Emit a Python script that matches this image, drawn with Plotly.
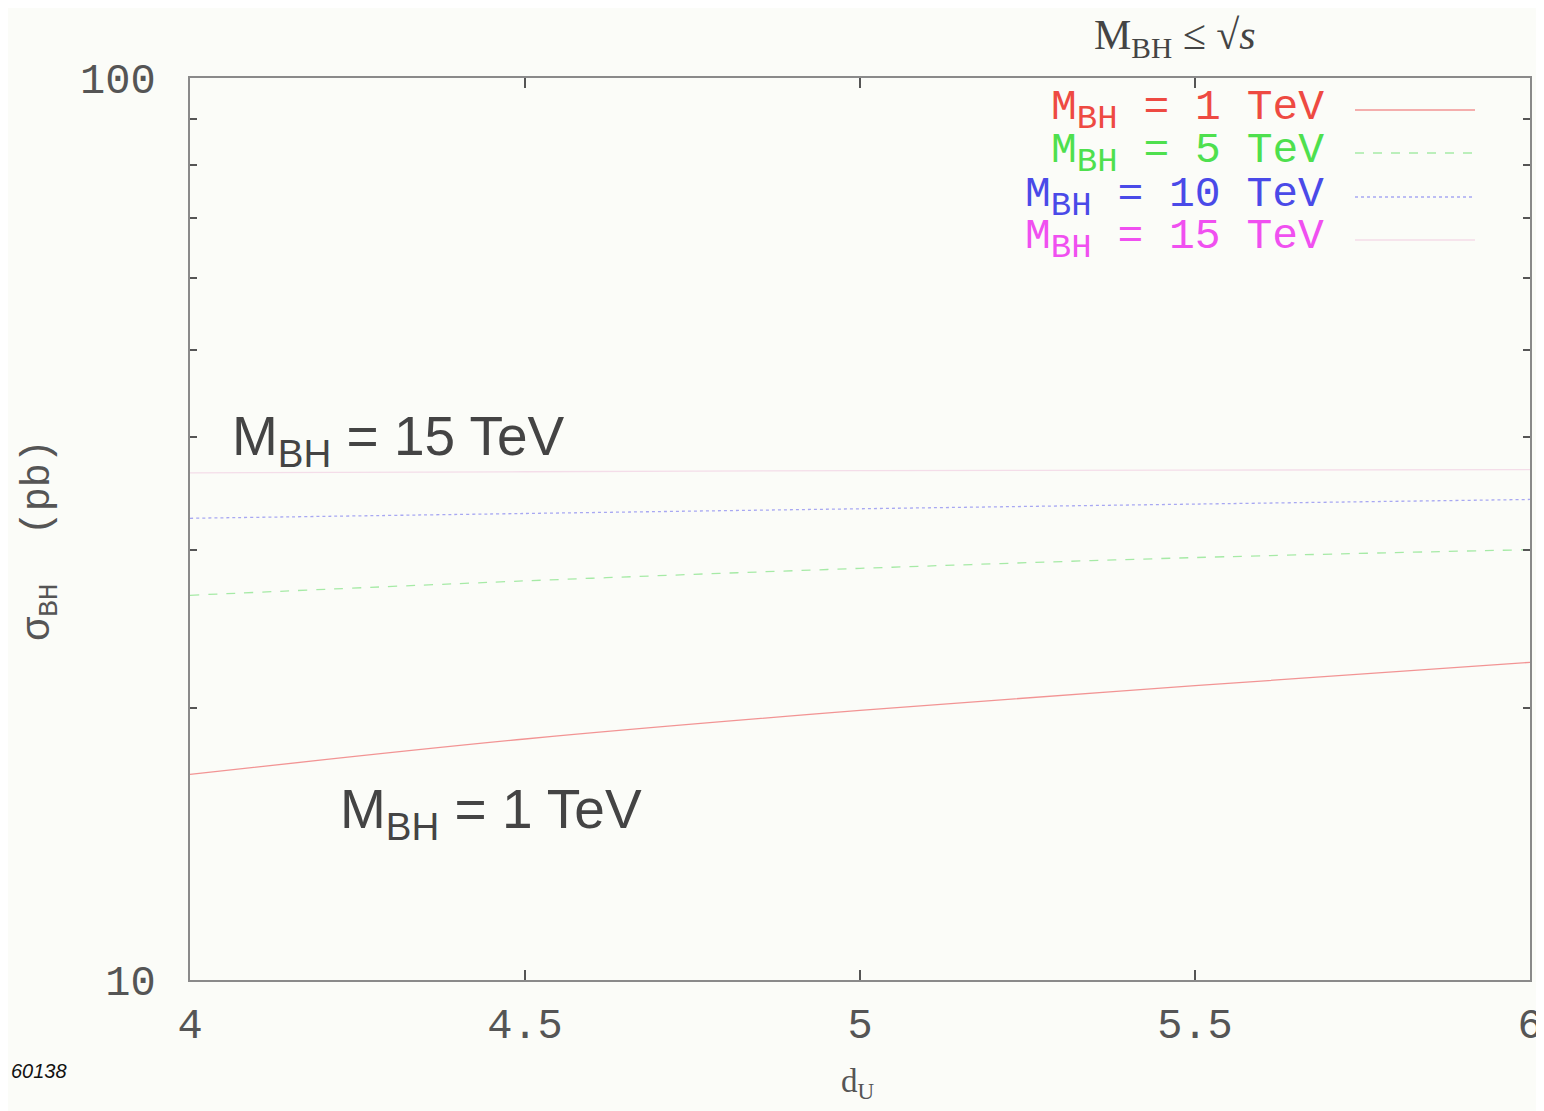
import plotly.graph_objects as go

# Data
d_u = [4.0, 4.5, 5.0, 5.5, 6.0]
sigma_1tev = [16.9, 18.5, 19.9, 21.2, 22.5]
sigma_5tev = [26.7, 27.7, 28.6, 29.4, 30.0]
sigma_10tev = [32.5, 32.9, 33.3, 33.7, 34.1]
sigma_15tev = [36.5, 36.6, 36.7, 36.75, 36.8]
series_labels = ["1 TeV", "5 TeV", "10 TeV", "15 TeV"]
text_colors = ["#ee4a42", "#4ee04e", "#4a4ae8", "#f050f0"]
line_colors = ["#f29494", "#a6eaa6", "#a8a8f2", "#f4dde9"]
line_dashes = ["solid", "dash", "dot", "solid"]
x_ticks = [4, 4.5, 5, 5.5, 6]
x_ticktext = ["4", "4.5", "5", "5.5", "6"]
y_major = [10, 100]
y_minor = [20, 30, 40, 50, 60, 70, 80, 90]

# plot area in screen pixels (the page adds an 8px body margin)
L, R, T, B = 190, 1530, 78, 980


def px(x):
    return (x - L) / (R - L)


def py(y):
    return (B - y) / (B - T)


fig = go.Figure()
all_series = [sigma_1tev, sigma_5tev, sigma_10tev, sigma_15tev]
for lab, ys, lc, dash in zip(series_labels, all_series, line_colors, line_dashes):
    fig.add_trace(go.Scatter(x=d_u, y=ys, mode="lines", name="M_BH = " + lab,
                             line=dict(color=lc, width=1.3, dash=dash, shape="spline"),
                             showlegend=False))

mono = "Liberation Mono, Courier New, monospace"
serif = "Liberation Serif, Times New Roman, serif"
sans = "Liberation Sans, Arial, sans-serif"

axis_common = dict(showline=True, linecolor="#8a8a8a", linewidth=2, mirror="ticks",
                   ticks="inside", ticklen=10, tickcolor="#555", tickwidth=1.5,
                   showgrid=False, zeroline=False, automargin=False,
                   tickfont=dict(family=mono, size=42, color="#555"))

fig.update_layout(
    width=1536, height=1103,
    margin=dict(l=182, r=14, t=70, b=131),
    paper_bgcolor="#fbfcf8", plot_bgcolor="#fbfcf8",
    xaxis=dict(range=[4, 6], tickvals=x_ticks, ticktext=x_ticktext,
               ticklabelstandoff=6, **axis_common),
    yaxis=dict(type="log", range=[1, 2], tickvals=y_major, ticktext=["10", "100"],
               minor=dict(tickvals=y_minor, ticks="inside", ticklen=7, tickcolor="#555"),
               ticklabelstandoff=24, **axis_common),
)

# Axis titles
fig.add_annotation(x=px(40), y=py(540), xref="paper", yref="paper",
                   text="σ<sub>BH</sub>  (pb)", textangle=-90, showarrow=False,
                   xanchor="center", yanchor="middle",
                   font=dict(family=mono, size=40, color="#555"))
fig.add_annotation(x=px(858), y=py(1083), xref="paper", yref="paper",
                   text="d<sub>U</sub>", showarrow=False,
                   xanchor="center", yanchor="middle",
                   font=dict(family=serif, size=33, color="#555"))

# Gnuplot-style key: text right-aligned, sample on the right
row_y = [110, 153, 197, 240]
for lab, tc, lc, dash, ry in zip(series_labels, text_colors, line_colors, line_dashes, row_y):
    txt = ("M<sub><span style='font-size:34px'>BH</span></sub> = "
           + lab.replace(" ", "&nbsp;"))
    fig.add_annotation(x=px(1326), y=py(ry), xref="paper", yref="paper", text=txt,
                       xanchor="right", yanchor="middle", showarrow=False,
                       font=dict(family=mono, size=43, color=tc))
    fig.add_shape(type="line", xref="paper", yref="paper", x0=px(1355), x1=px(1475),
                  y0=py(ry), y1=py(ry), line=dict(color=lc, width=1.5, dash=dash))

# In-plot labels
fig.add_annotation(x=px(230), y=py(440), xref="paper", yref="paper",
                   text="M<sub>BH</sub> = 15 TeV", xanchor="left", yanchor="middle",
                   showarrow=False, font=dict(family=sans, size=55, color="#444"))
fig.add_annotation(x=px(338), y=py(813), xref="paper", yref="paper",
                   text="M<sub>BH</sub> = 1 TeV", xanchor="left", yanchor="middle",
                   showarrow=False, font=dict(family=sans, size=55, color="#444"))

# Title-like label above the frame
fig.add_annotation(x=px(1175), y=py(38), xref="paper", yref="paper",
                   text="M<sub>BH</sub> ≤ √<i>s</i>", xanchor="center", yanchor="middle",
                   showarrow=False, font=dict(family=serif, size=42, color="#444"))

# Corner id
fig.add_annotation(x=px(9), y=py(1071), xref="paper", yref="paper", text="<i>60138</i>",
                   xanchor="left", yanchor="middle",
                   showarrow=False, font=dict(family=sans, size=20, color="#111"))

fig.write_html("out.html")
